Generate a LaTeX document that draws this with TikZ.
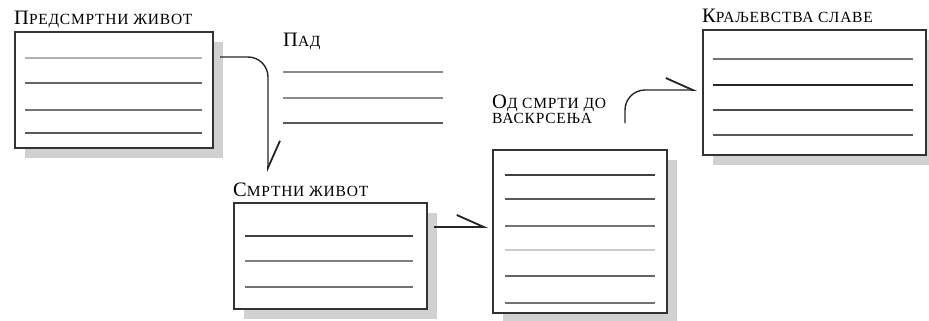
\documentclass[tikz,border=0pt]{standalone}
\usepackage{fontspec}
\setmainfont{Liberation Serif}
\usetikzlibrary{arrows.meta,shadows}
\newcommand{\capsize}{\fontsize{20.5}{22}\selectfont}
\newcommand{\smal}{\fontsize{15.5}{17}\selectfont\addfontfeature{LetterSpace=5}}
\newcommand{\sct}[2]{{\capsize #1}{\smal #2}}
\newcommand{\rules}[3]{
	\foreach \y/\s in {#3}
		\draw [rule, black!\s](#1,\y) -- (#2,\y);
	}

\begin{document}
\begin{tikzpicture}[
      x=1pt, y=-1pt, %pixel grid, y going down
      card/.style={draw=black!80, line width=2pt, fill=white, inner sep=0pt, anchor=north west,
        drop shadow={shadow xshift=10pt, shadow yshift=-10pt, fill=black!18, opacity=1}},
      rule/.style={line width=1.5pt},
      title/.style={inner sep=0pt, anchor=base west, align=left},
      flow/.style={line width=1.4pt, black!85, rounded corners=20pt,
        -{Straight Barb[left, length=27pt, width=24pt, line width=1.8pt]}}
    ]
    \useasboundingbox (0,0) rectangle (929,321);
    % the cards
    \node[card, minimum width=198pt, minimum height=116pt] (pre) at (14,31) {};
    \node[card, minimum width=193pt, minimum height=106pt] (mort) at (233,202) {};
    \node[card, minimum width=174pt, minimum height=163pt] (dr) at (492,149) {};
    \node[card, minimum width=223pt, minimum height=125pt] (glory) at (702,29) {};
    % the ruled lines
    \rules{25}{202}{58/30, 83/60, 110/55, 133/65};
    \rules{283}{443}{72/45, 98/45, 123/65};
    \rules{245}{413}{236/75, 261/50, 287/55};
    \rules{505}{655}{175/75, 199/65, 226/55, 250/20, 276/60, 303/55};
    \rules{713}{913}{59/55, 85/85, 110/70, 135/65};
    % the titles
    \node[title] (pre title) at (14,25) {\sct{П}{РЕДСМРТНИ ЖИВОТ}};
    \node[title] (fall title) at (283,47) {\sct{П}{АД}};
    \node[title] (mort title) at (233,196) {\sct{С}{МРТНИ ЖИВОТ}};
    \node[title] (dr title) at (492,123) {\sct{О}{Д СМРТИ ДО}\\\smal ВАСКРСЕЊА};
    \node[title] (glory title) at (702,23) {\sct{К}{РАЉЕВСТВА СЛАВЕ}};
    % the arrows
    \coordinate (mort in) at (268,172);
    \draw[flow] ([shift={(6,26)}]pre.north east) -| (mort in);
    \draw[flow] ([shift={(6,25)}]mort.north east) -- ([shift={(-4,78)}]dr.north west);
    \draw[flow] ([shift={(133,-26)}]dr.north west) |- ([shift={(-5,61)}]glory.north west);
    \end{tikzpicture}
\end{document}
